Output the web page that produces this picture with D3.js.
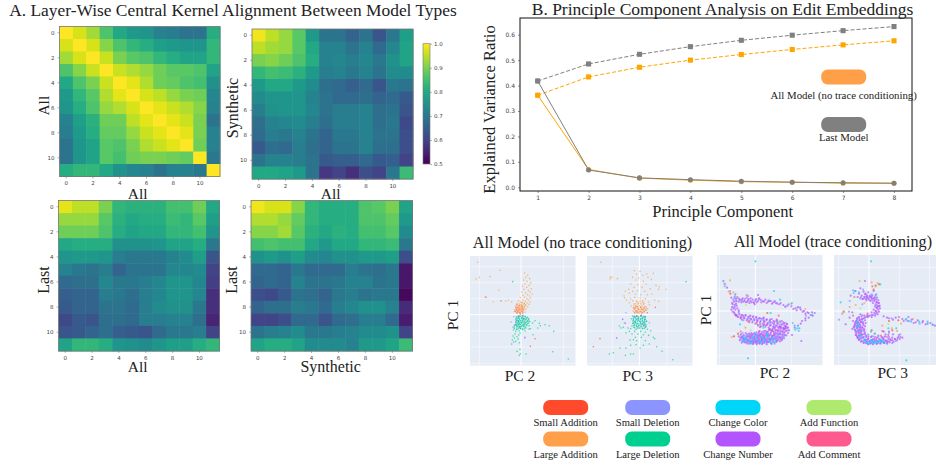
<!DOCTYPE html>
<html>
<head>
<meta charset="utf-8">
<script src="https://cdn.jsdelivr.net/npm/d3@7"></script>
<style>
  html, body { margin: 0; padding: 0; background: #fff; }
  svg { display: block; }
  text { font-family: "Liberation Serif", serif; fill: #222; }
  .tick text { font-family: "DejaVu Sans", sans-serif; fill: #444; }
</style>
</head>
<body>
<div id="chart"></div>
<script>
// ---- heatmaps, layer by layer ----
const layers = d3.range(12);
const layerTicks = [0, 2, 4, 6, 8, 10];
const allAll = [
  [1.0, .97, .93, .86, .80, .77, .76, .72, .71, .69, .69, .81],
  [.97, 1.0, .97, .91, .86, .83, .81, .78, .77, .76, .76, .83],
  [.93, .97, 1.0, .96, .90, .87, .86, .83, .81, .79, .79, .83],
  [.86, .91, .96, 1.0, .96, .94, .92, .89, .87, .87, .86, .79],
  [.80, .86, .90, .96, 1.0, .98, .94, .89, .88, .86, .85, .75],
  [.77, .83, .87, .94, .98, 1.0, .97, .95, .92, .90, .89, .73],
  [.76, .81, .86, .92, .94, .97, 1.0, .98, .96, .94, .91, .72],
  [.72, .78, .82, .89, .89, .95, .98, 1.0, .98, .96, .90, .69],
  [.71, .77, .81, .88, .88, .92, .96, .98, 1.0, .98, .90, .72],
  [.69, .76, .79, .87, .86, .90, .94, .96, .98, 1.0, .89, .72],
  [.69, .76, .79, .87, .85, .89, .90, .90, .89, .88, 1.0, .70],
  [.81, .83, .83, .80, .75, .73, .72, .69, .72, .72, .70, 1.0]
];
const syntheticAll = [
  [.99, .95, .92, .87, .77, .69, .69, .66, .69, .63, .70, .78],
  [.95, .93, .92, .87, .80, .72, .72, .69, .72, .67, .73, .79],
  [.90, .91, .89, .86, .81, .72, .73, .71, .73, .70, .75, .79],
  [.83, .85, .84, .82, .77, .71, .72, .70, .72, .69, .74, .74],
  [.77, .80, .80, .77, .74, .68, .67, .65, .67, .63, .70, .69],
  [.74, .76, .76, .76, .72, .69, .67, .67, .68, .66, .67, .64],
  [.71, .75, .76, .76, .73, .69, .71, .71, .72, .68, .69, .63],
  [.68, .72, .73, .74, .71, .68, .71, .71, .72, .68, .70, .61],
  [.67, .71, .70, .72, .69, .66, .70, .70, .72, .69, .69, .62],
  [.64, .68, .67, .71, .68, .66, .69, .69, .72, .68, .68, .62],
  [.69, .72, .72, .71, .69, .64, .65, .65, .67, .64, .65, .60],
  [.80, .80, .79, .77, .69, .58, .60, .57, .62, .60, .70, .84]
];
const lastAll = [
  [.98, .95, .95, .90, .83, .82, .82, .82, .85, .85, .89, .80],
  [.92, .92, .92, .87, .82, .80, .81, .81, .84, .83, .87, .78],
  [.89, .89, .89, .86, .81, .79, .80, .80, .83, .83, .85, .76],
  [.80, .81, .81, .81, .75, .75, .75, .76, .79, .79, .81, .70],
  [.76, .77, .77, .76, .71, .70, .70, .70, .72, .74, .78, .63],
  [.72, .70, .69, .71, .66, .69, .69, .69, .73, .73, .74, .60],
  [.67, .68, .68, .73, .70, .70, .71, .73, .76, .76, .73, .59],
  [.65, .66, .66, .71, .70, .68, .71, .73, .76, .76, .73, .57],
  [.64, .66, .66, .69, .69, .67, .71, .74, .75, .75, .70, .57],
  [.61, .64, .63, .68, .68, .67, .71, .71, .72, .72, .68, .55],
  [.63, .64, .66, .68, .65, .64, .63, .67, .70, .70, .71, .60],
  [.79, .83, .83, .81, .76, .75, .74, .76, .78, .78, .81, .83]
];
const lastSynthetic = [
  [.99, .97, .97, .91, .83, .81, .81, .81, .86, .87, .90, .79],
  [.94, .94, .92, .88, .83, .81, .81, .81, .86, .86, .88, .77],
  [.91, .91, .93, .87, .82, .80, .82, .81, .85, .85, .87, .74],
  [.85, .86, .85, .85, .80, .77, .80, .80, .83, .83, .84, .70],
  [.75, .77, .75, .78, .74, .73, .75, .75, .77, .77, .78, .62],
  [.67, .67, .66, .70, .67, .67, .67, .71, .69, .68, .70, .53],
  [.66, .67, .66, .72, .69, .69, .70, .72, .72, .69, .70, .53],
  [.62, .61, .64, .69, .68, .66, .70, .71, .69, .70, .70, .51],
  [.66, .68, .68, .71, .70, .67, .71, .73, .75, .75, .72, .56],
  [.60, .60, .62, .67, .67, .63, .67, .68, .71, .71, .67, .54],
  [.69, .71, .72, .74, .70, .70, .71, .72, .74, .74, .75, .60],
  [.79, .81, .81, .79, .74, .74, .74, .72, .77, .77, .79, .84]
];
const colorbarTicks = [0.5, 0.6, 0.7, 0.8, 0.9, 1.0];

// ---- explained variance ----
const components = [1, 2, 3, 4, 5, 6, 7, 8];
const varianceTicks = [0, 0.1, 0.2, 0.3, 0.4, 0.5, 0.6];
const lastCumulative = [.418, .485, .523, .553, .578, .598, .616, .632];
const allCumulative = [.362, .434, .472, .500, .522, .542, .560, .576];
const lastRatio = [.418, .068, .037, .030, .024, .020, .018, .016];
const allRatio = [.362, .070, .036, .028, .022, .020, .016, .016];

// ---- edit types ----
const editTypes = ["Small Addition", "Small Deletion", "Change Color", "Add Function",
                   "Large Addition", "Large Deletion", "Change Number", "Add Comment"];
const editColors = ["#ff4b2b", "#8c94ff", "#00d5fa", "#aeea6e",
                    "#ff9f4a", "#00d08f", "#b354ff", "#ff5a90"];

const noTrace2LargeAdd = [-130,157,-63,133,-135,107,-125,112,-93,114,-67,74,-107,54,-83,38,-46,41,-38,44,-28,39,
  11,125,20,118,14,112,26,108,8,104,18,100,29,96,12,92,24,88,5,85,17,82,31,78,9,76,22,73,27,69,3,68,14,66,33,62,19,60,6,58,25,56,
  11,53,29,50,-2,51,17,48,22,45,6,44,-8,42,13,40,27,39,2,37,18,35,-12,34,9,33,24,31,-3,30,14,28,-16,27,5,26,20,24,-8,22,10,21,-14,20,
  1,19,15,17,-18,16,-5,15,8,14,-11,12,3,11,-20,10,-6,9,12,8,-2,6,6,5,-13,6,
  -2,38,4,36,10,34,-4,32,2,31,8,29,14,30,-7,27,-1,26,5,25,11,24,-10,23,-4,22,2,21,8,20,-12,18,-6,17,0,16,6,15,-14,13,-8,12,-2,11,4,10,-15,8,-9,7,-3,6,3,5];
const noTrace2SmallAdd = [-105,52,-60,41,-12,30,-6,27,2,25,-15,22,-9,20,4,19,-3,17,-13,15,7,15,-7,13,1,11,-17,10,-10,9,5,8,-4,6,-12,5,42,-72,28,-95];
const noTrace2Deletion = [-22,-6,-14,-9,-5,-3,-18,-30,-8,-18,3,-8,13,-22,-24,-38,11,-70,-5,-26,-30,-22,-2,-40,6,-15,
  -10,-28,-2,-36,-16,-20,4,-10,-6,-20,12,-28,-20,-36,-8,-8];
const noTrace2LargeDel = [-25,99,4,-3,-5,-6,12,-5,-10,-10,2,-10,17,-10,23,-12,-16,-14,-4,-14,8,-14,14,-15,-12,-18,0,-18,20,-18,-7,-21,6,-21,26,-21,-15,-24,1,-25,12,-25,20,-26,-10,-27,-3,-29,7,-29,-18,-30,16,-30,-8,-33,2,-33,24,-33,-13,-37,9,-36,
  -5,-38,-20,-41,15,-40,-1,-42,-12,-44,5,-45,-23,-46,24,-43,-6,-48,-16,-50,12,-49,35,-25,42,-18,55,-26,-3,-55,-18,-58,-7,-61,-24,-64,-12,-66,58,-33,72,-30,50,-40,85,-33,98,-50,-20,-70,-9,-73,-26,-76,-16,-80,-5,-84,-28,-88,-22,-82,
  -3,-104,-12,-110,-2,-117,15,-118,-5,-122,95,-111,142,-133,28,-42,36,-60,
  -14,-6,-8,-4,-1,-5,6,-6,13,-7,19,-8,-12,-12,-6,-11,1,-12,8,-11,15,-13,22,-14,-13,-18,-7,-17,-1,-19,5,-17,11,-19,18,-20,24,-19,-15,-24,-9,-23,-3,-24,3,-23,9,-25,15,-24,22,-25,-14,-30,-7,-29,-1,-30,5,-31,11,-31,18,-32,-11,-35,-5,-35,1,-36,7,-35,13,-37,-8,-41,-2,-41,4,-42,10,-42,-14,-44];
const noTrace2Number = [-2,2,6,-2,-8,-5,-14,-32,10,-12,12,-68];
const noTrace2Color = [-12,-16,2,-24,-20,-33,8,-34];

const noTrace3LargeAdd = [-115,157,-87,113,-82,112,-66,108,-88,107,-15,132,2,130,-8,122,10,118,22,122,42,124,-20,112,-2,110,26,112,36,106,-10,104,12,100,-26,92,-4,90,20,92,50,88,60,84,-16,82,
  8,82,33,78,-32,76,58,76,80,76,-42,70,-20,70,-6,72,16,70,-46,56,-30,64,-12,62,4,60,24,60,38,62,-44,50,-26,48,-14,52,2,50,18,48,46,44,58,40,-38,44,-20,42,-8,40,10,42,28,38,-30,36,-16,32,-2,34,14,34,30,30,-24,26,-10,26,4,24,20,24,
  -16,20,-4,18,12,16,25,18,-8,12,6,10,-18,10,15,8,-2,6,
  -6,38,2,40,10,37,-12,33,-4,32,4,33,12,31,-16,27,-8,26,0,27,8,26,16,25,-18,21,-10,20,-2,21,6,20,14,19,20,20,-14,15,-6,14,2,15,10,14,18,13,-12,9,-4,8,4,9,12,8,-8,5,0,5,8,5];
const noTrace3SmallAdd = [-12,22,-6,24,4,22,14,20,-16,18,-2,16,8,16,20,14,-10,12,2,10,14,10,-6,8,8,6,-14,6,24,6,-118,-72,-138,-96,48,22];
const noTrace3Deletion = [-14,-4,-6,-6,4,-3,14,-5,-18,-12,-4,-12,8,-12,18,-14,-12,-20,2,-20,12,-22,-8,-28,6,-28,-16,-32,16,-30,-50,-14,-45,-24,-68,-70,20,-36,-40,6,30,-24,
  -12,-8,-2,-14,8,-10,-14,-22,2,-28,12,-24,-6,-36,16,-8,-18,-6,6,-2];
const noTrace3LargeDel = [140,99,-20,-4,-8,-3,4,-4,18,-6,-14,-8,-2,-9,10,-9,-24,-12,-8,-14,4,-14,16,-14,-18,-17,-2,-18,10,-18,22,-20,-12,-22,4,-22,15,-24,-20,-26,-6,-26,9,-28,20,-30,-14,-30,-1,-32,14,-33,-22,-34,-8,-35,5,-36,
  -16,-38,18,-38,-2,-40,10,-42,-26,-42,-10,-44,24,-44,-34,-40,-48,-38,-60,-34,-30,-50,-14,-50,4,-50,18,-52,34,-48,-40,-54,-22,-58,-4,-58,12,-60,28,-62,-55,-40,-12,-68,6,-68,46,-72,-28,-76,-8,-78,18,-78,42,-68,
  -10,-90,12,-92,-26,-92,30,-88,-58,-100,-78,-114,-90,-118,-40,-100,-18,-118,2,-100,-42,-122,-26,-118,52,-96,68,-110,100,-135,-18,-75,
  -16,-6,-9,-5,-2,-6,5,-5,12,-6,18,-7,-18,-13,-11,-12,-4,-12,3,-13,10,-12,17,-14,-19,-19,-13,-20,-6,-19,1,-20,8,-19,15,-21,21,-20,-18,-26,-11,-25,-4,-27,3,-26,10,-27,17,-26,-16,-33,-9,-32,-2,-33,5,-33,12,-34,19,-34,-14,-39,-6,-40,1,-40,8,-40,15,-41];
const noTrace3Number = [-42,-26,-50,-14,-8,-4,6,-2,-16,-24,12,-30,-68,-70];
const noTrace3Color = [-10,-16,4,-26,16,-18,-2,-34];

const trace2Number = [-96,90,-85,70,-60,50,-58,30,-48,36,-40,34,-32,36,-22,33,-14,30,-6,26,2,36,8,30,16,33,22,30,30,34,38,28,46,30,54,26,62,24,72,20,84,18,96,16,108,14,120,8,128,12,136,4,142,-2,150,-8,160,-6,170,-4,178,-6,172,-14,160,-20,
  150,-28,136,-38,128,-44,118,-50,-64,28,-68,20,-62,12,-60,4,-64,-4,-56,-12,-52,-18,-44,-22,-34,-20,-24,-24,-14,-26,-4,-24,6,-28,16,-30,26,-32,36,-36,46,-34,56,-38,66,-36,78,-40,88,-44,-58,22,-54,8,-50,-2,-42,-12,-30,-14,-18,-16,-8,-18,2,-20,14,-22,
  24,-22,34,-26,44,-26,54,-30,64,-30,74,-32,84,-34,94,-38,4,-34,14,-40,24,-44,34,-42,44,-44,54,-46,64,-44,74,-48,84,-50,
  -44,-84,-38,-76,-36,-91,-30,-81,-28,-95,-25,-70,-22,-86,-18,-77,-17,-98,-13,-90,-10,-72,-8,-83,-6,-97,-3,-66,-1,-78,2,-90,4,-100,6,-71,8,-84,11,-62,12,-95,15,-76,17,-88,19,-68,22,-97,24,-80,26,-60,28,-91,30,-72,33,-85,35,-64,37,-94,39,-77,41,-56,43,-88,45,-68,47,-96,49,-80,51,-60,53,-91,55,-72,57,-52,59,-84,61,-65,63,-93,65,-76,67,-57,69,-87,71,-69,73,-48,75,-80,77,-61,79,-88,81,-72,84,-54,86,-82,88,-64,91,-46,93,-73,96,-58,
  -40,-80,-33,-88,-26,-78,-20,-93,-15,-83,-11,-74,-5,-88,0,-94,3,-73,7,-79,10,-91,14,-69,18,-82,21,-92,25,-73,29,-84,32,-67,36,-89,40,-71,44,-82,48,-58,52,-86,56,-66,60,-78,64,-88,68,-62,72,-78,76,-54,80,-80,85,-68,
  -42,-78,-34,-84,-24,-90,-16,-72,-9,-94,-2,-84,5,-92,12,-74,20,-86,27,-78,34,-94,41,-84,50,-74,58,-70,66,-82,74,-66,82,-60,90,-52,138,-90,-2,20,8,48,12,38,-50,2,-72,40,50,-58,110,-72,
  -50,-76,-47,-88,-43,-70,-41,-95,-37,-83,-35,-72,-32,-94,-29,-66,-27,-86,-24,-75,-23,-98,-19,-68,-19,-89,-16,-80,-14,-93,-12,-66,-12,-78,-9,-88,-7,-69,-7,-99,-4,-80,-2,-92,-1,-70,1,-86,3,-64,3,-97,5,-79,7,-90,9,-67,9,-74,11,-86,13,-98,13,-60,16,-70,16,-92,18,-80,20,-63,20,-99,23,-86,23,-74,26,-66,26,-94,28,-79,31,-60,31,-89,34,-73,34,-100,37,-82,38,-62,40,-93,42,-74,43,-54,46,-86,47,-64,49,-99,50,-76,52,-54,54,-84,55,-62,57,-94,58,-73,60,-50,62,-82,63,-58,65,-90,66,-68,69,-48,70,-80,72,-59,74,-91,76,-70,78,-50,80,-84,82,-63,84,-76,87,-56,89,-72,92,-60,95,-50,98,-66,101,-58,
  -48,-10,-44,-18,-40,-26,-37,-14,-33,-22,-29,-12,-26,-28,-22,-18,-19,-30,-15,-14,-12,-24,-9,-34,-6,-16,-3,-28,0,-38,3,-18,6,-30,8,-42,11,-22,14,-34,17,-46,19,-24,22,-38,25,-20,28,-32,31,-44,34,-26,37,-40,40,-50,43,-30,46,-42,49,-24,52,-36,55,-48,58,-32,61,-44,64,-26,67,-38,70,-52,73,-34,76,-46,79,-30,82,-40,85,-52,88,-36,91,-46,95,-40,98,-50,
  -70,24,-66,34,-62,40,-58,36,-54,42,-50,28,-46,32,-42,26,-38,38,-36,28,-32,30,-28,26,-26,40,-24,28,-20,36,-18,24,-14,38,-12,26,-8,34,-4,24,0,32,-70,12,-66,8,-68,-2,-62,-8,-58,-14,-62,18,-72,4,-56,16,-54,-16,4,26,10,36,18,26,26,28,34,24,42,30,50,22,58,30,66,22,76,24,90,12,100,20,114,6,124,2,134,10,146,0,156,-4,166,-12,150,-22,140,-30];
const trace2Deletion = [-46,-80,-30,-74,-20,-85,-12,-94,-4,-76,6,-88,14,-82,22,-72,30,-92,38,-84,46,-72,54,-94,62,-84,70,-74,80,-70,-40,-90,-28,-92,-10,-84,4,-96,18,-90,34,-78,48,-88,60,-68,76,-84,-60,20,-50,-6,-36,-18,-16,-22,4,-26,26,-28,44,-36,
  66,-32,86,-38,40,32,60,26,90,14,126,10,152,-14,-56,38,-76,60,-22,45,8,-44,30,-48,52,-52,112,-36,130,-60,-92,74,
  -44,-72,-34,-92,-22,-74,-10,-98,-2,-74,8,-96,18,-74,28,-96,38,-70,48,-84,58,-98,68,-72,78,-78,88,-74,-38,-66,-26,-94,-14,-70,-4,-90,12,-78,24,-90,34,-76,44,-92,54,-78,64,-70,74,-84,-36,-28,-20,-22,-8,-30,8,-24,24,-28,40,-34,56,-40,72,-42,-64,10,-56,30,-40,30,-20,30,0,30];
const trace2Color = [-93,82,-30,-86,-18,-90,-8,-78,2,-84,12,-90,20,-78,30,-88,42,-90,50,-80,-34,-78,0,-70,36,-74,60,-90,-14,-96,74,34,56,60,108,22,-62,44,46,-6,120,-56,126,-52,132,-52,118,-44,170,-12,-22,-142,0,149,-46,-40,24,-50,
  -38,-88,-26,-82,-10,-90,6,-76,16,-94,26,-84,34,-70,46,-94,56,-82];
const trace2SmallAdd = [-75,52,-22,-76,44,-56,-6,-92,-64,-76,-52,-68,-60,-12,14,-48,-44,-20,90,-52,60,-58,26,-40,36,-6];
const trace2LargeAdd = [-76,92,-90,80,-80,58,-66,56,-50,38,-30,-50,-70,-78,4,-38,-22,-32,66,-28,38,-70,110,24,150,6,-40,-12];
const trace2Comment = [-44,-62,10,-82,56,-74,-18,-34,70,-14,24,-72,-26,48];
const trace2Function = [72,-32,-14,-58,-28,18];

const trace3Number = [-55,46,-42,60,-26,68,-16,58,-10,52,-2,56,6,44,14,60,20,48,24,40,28,32,30,24,-22,46,-14,40,-26,38,-6,40,2,42,10,38,16,34,22,26,26,16,24,8,20,0,16,-6,8,-12,-2,-16,-12,50,4,30,12,24,18,14,14,4,8,-4,-4,-8,
  -18,36,-8,32,-30,52,-34,42,32,16,-26,-10,-22,-16,-30,-18,-36,-22,-14,-14,-20,-24,-28,-26,-38,-30,-16,-22,-12,-28,-24,-32,-34,-36,-42,-36,-18,-34,-10,-36,-28,-40,-38,-44,-16,-42,-46,-50,-26,-48,-36,-52,-20,-50,-12,-46,
  -42,-58,-30,-56,-22,-60,-38,-66,-26,-66,-14,-56,-40,-72,-28,-74,-18,-70,-34,-80,-22,-80,-12,-66,-30,-86,-16,-78,-8,-74,-24,-92,-12,-86,-2,-82,-16,-96,-4,-92,6,-78,4,-98,14,-84,14,-94,24,-80,24,-98,34,-86,34,-98,44,-84,44,-96,54,-90,54,-98,64,-84,
  -6,-86,2,-90,10,-88,18,-90,28,-92,38,-92,48,-90,58,-92,70,-88,78,-84,-36,-76,-34,-60,-32,-46,-24,-54,-44,-44,-48,-30,-10,-96,-2,-100,12,-100,40,-80,60,-78,70,-96,86,-82,94,-78,90,-72,72,-70,
  54,-20,72,-26,90,-18,104,-30,118,-18,134,-36,146,-28,160,-34,176,-38,192,-42,206,-36,44,-16,60,-62,100,-80,50,-70,-70,-40,-50,-54,-58,-20,-12,90,-50,-4,40,-60,
  -20,36,-14,42,-10,36,-6,44,-2,38,2,46,6,40,10,46,14,38,18,40,22,34,24,26,28,24,30,14,26,12,33,8,28,4,30,-2,24,-4,26,-10,20,-8,18,-14,12,-12,8,-18,2,-14,-4,-18,-12,-20,-8,44,0,34,8,34,16,30,20,20,22,10,20,0,
  -30,-20,-36,-26,-28,-28,-22,-24,-40,-32,-32,-34,-24,-34,-42,-40,-34,-42,-26,-42,-18,-38,-44,-48,-36,-50,-28,-50,-20,-48,-42,-56,-34,-58,-26,-58,-16,-54,-40,-64,-32,-66,-24,-64,-14,-62,-38,-72,-30,-74,-22,-72,-12,-70,-34,-80,-26,-82,-18,-80,-8,-78,-30,-86,-22,-90,-12,-88,-2,-84,
  -16,-94,-8,-92,-4,-98,2,-90,6,-96,10,-86,14,-94,18,-88,22,-98,26,-90,30,-84,34,-96,38,-90,42,-84,46,-96,50,-88,54,-94,58,-84,62,-94,66,-88,70,-80,74,-92,78,-84,84,-88,88,-78,92,-84,-2,-76,8,-76,18,-78,28,-74,38,-78,48,-76,58,-72,
  60,-22,80,-20,100,-24,116,-30,128,-26,140,-34,162,-30,170,-40,184,-36,198,-44];
const trace3Deletion = [-48,62,-30,56,-18,64,-6,48,8,50,18,42,-24,42,-4,36,10,30,22,18,-32,-20,-26,-42,-38,-62,-30,-78,-18,-90,-6,-94,8,-92,22,-88,36,-94,50,-92,62,-88,-20,-12,-8,-18,-34,-30,-42,-40,-18,-58,-10,-76,-2,-70,
  12,-76,28,-78,46,-78,60,-66,80,-90,94,-70,68,-22,110,-26,126,-32,152,-38,-60,-2,-58,30,-90,-26,-80,-8,-20,20,
  -6,-94,4,-92,12,-98,20,-90,28,-96,36,-92,44,-90,-14,-88,-24,-84,-30,-70,-34,-60,-38,-46,-30,-36,-20,-30,6,-88,16,-84];
const trace3Color = [6,149,-46,54,-40,60,-85,26,34,80,-34,-48,-28,-60,-24,-76,-14,-86,-4,-96,6,-88,16,-96,26,-92,36,-88,46,-96,18,-68,6,-62,58,-52,82,-52,120,-30,112,-24,150,-32,176,-32,190,-40,112,-148,22,50,
  -32,-44,-26,-72,-10,-90,2,-96,12,-92,22,-94,32,-90,42,-92,-36,-34];
const trace3SmallAdd = [-6,-14,14,64,20,76,30,80,-36,-36,-22,-70,44,-62,70,-58,-76,-2,60,-30,8,-58,88,-28];
const trace3LargeAdd = [-28,90,8,86,26,84,-58,12,-76,-2,-40,18,-14,24,68,-52,84,-60,40,-44,96,-38,132,-24,16,-68];
const trace3Comment = [10,74,-30,-64,36,-74,-48,-14,22,-84,54,-78,-44,42];
const trace3Function = [20,72,-26,8,58,-40];

const drawOrder = ["smallAdd", "largeAdd", "number", "deletion", "largeDel", "color", "fn", "comment"];

// flat x,y list -> pairs
function toPairs(flat) {
  const out = [];
  for (let i = 0; i < flat.length; i += 2) out.push([flat[i], flat[i + 1]]);
  return out;
}

const width = 936, height = 467;
const svg = d3.select("#chart").append("svg").attr("width", width).attr("height", height);

function label(txt, x, y, size, rotate) {
  const t = svg.append("text").attr("text-anchor", "middle").attr("font-size", size).text(txt);
  if (rotate) t.attr("transform", `translate(${x},${y}) rotate(-90)`);
  else t.attr("x", x).attr("y", y);
  return t;
}

// ---- A. heatmaps ----
const heatColor = d3.scaleSequential(d3.interpolateViridis).domain([0.5, 1]);
const heatPanels = [
  { values: allAll, x0: 59.5, x1: 220, y0: 26.5, y1: 176.5 },
  { values: syntheticAll, x0: 252, x1: 413, y0: 29, y1: 179 },
  { values: lastAll, x0: 58.5, x1: 219.5, y0: 200.5, y1: 351 },
  { values: lastSynthetic, x0: 251, x1: 412.5, y0: 200.5, y1: 351 }
];
heatPanels.forEach(p => {
  const x = d3.scaleBand().domain(layers).range([p.x0, p.x1]);
  const y = d3.scaleBand().domain(layers).range([p.y0, p.y1]);
  const g = svg.append("g").style("filter", "blur(0.5px)");
  p.values.forEach((row, r) => {
    g.selectAll(null).data(row).enter().append("rect")
      .attr("x", (d, c) => x(c)).attr("y", y(r))
      .attr("width", x.bandwidth() + 0.5).attr("height", y.bandwidth() + 0.5)
      .attr("fill", d => heatColor(d));
  });
  svg.append("rect").attr("x", p.x0).attr("y", p.y0)
    .attr("width", p.x1 - p.x0).attr("height", p.y1 - p.y0)
    .attr("fill", "none").attr("stroke", "#777").attr("stroke-width", 0.8);
  [["axisBottom", `translate(0,${p.y1})`, x], ["axisLeft", `translate(${p.x0},0)`, y]].forEach(([fn, tr, s]) => {
    const a = svg.append("g").attr("transform", tr)
      .call(d3[fn](s).tickValues(layerTicks).tickSize(2).tickPadding(3));
    a.select(".domain").remove();
    a.selectAll("line").attr("stroke", "#666").attr("stroke-width", 0.5);
    a.selectAll("text").attr("font-size", 5.5);
  });
});

// colorbar
const cbScale = d3.scaleLinear().domain([0.5, 1]).range([164, 43.7]);
const cbDefs = svg.append("defs").append("linearGradient").attr("id", "viridisBar")
  .attr("x1", 0).attr("y1", 1).attr("x2", 0).attr("y2", 0);
d3.range(0, 1.001, 0.1).forEach(t => {
  cbDefs.append("stop").attr("offset", t).attr("stop-color", d3.interpolateViridis(t));
});
svg.append("rect").attr("x", 423).attr("y", 43.7).attr("width", 7).attr("height", 120.3)
  .attr("fill", "url(#viridisBar)").attr("stroke", "#777").attr("stroke-width", 0.6);
const cbAxis = svg.append("g").attr("transform", "translate(430,0)")
  .call(d3.axisRight(cbScale).tickValues(colorbarTicks).tickFormat(d3.format(".1f")).tickSize(2).tickPadding(2));
cbAxis.select(".domain").remove();
cbAxis.selectAll("line").attr("stroke", "#666").attr("stroke-width", 0.5);
cbAxis.selectAll("text").attr("font-size", 5.5);

label("A. Layer-Wise Central Kernel Alignment Between Model Types", 233, 15.5, 17.4);
label("All", 137.7, 198.5, 15.5);
label("All", 49, 105.7, 15.5, true);
label("Synthetic", 238, 108, 16, true);
label("All", 330.7, 198.5, 15.5);
label("Last", 49, 280, 16, true);
label("Last", 237, 280, 16, true);
label("All", 137.7, 372, 15.5);
label("Synthetic", 330.7, 372, 16);

// ---- B. explained variance ----
const xVar = d3.scaleLinear().domain([1, 8]).range([537.7, 894]);
const yVar = d3.scaleLinear().domain([0, 0.6]).range([187.3, 34.7]);
const varLine = d3.line().x((d, i) => xVar(components[i])).y(d => yVar(d));
svg.append("rect").attr("x", 520).attr("y", 18).attr("width", 392).attr("height", 173)
  .attr("fill", "#fff").attr("stroke", "#111").attr("stroke-width", 1);

const varSeries = [
  { values: allCumulative, color: "orange", dash: "4,2", shape: "square" },
  { values: lastCumulative, color: "#808080", dash: "4,2", shape: "square" },
  { values: allRatio, color: "orange", dash: null, shape: "circle" },
  { values: lastRatio, color: "#808080", dash: null, shape: "circle" }
];
varSeries.forEach(s => {
  svg.append("path").datum(s.values).attr("d", varLine).attr("fill", "none")
    .attr("stroke", s.color).attr("stroke-width", 1).attr("stroke-dasharray", s.dash);
  const sym = d3.symbol().type(s.shape === "square" ? d3.symbolSquare : d3.symbolCircle).size(s.shape === "square" ? 26 : 20);
  svg.selectAll(null).data(s.values).enter().append("path")
    .attr("d", sym)
    .attr("transform", (d, i) => `translate(${xVar(components[i])},${yVar(d)})`)
    .attr("fill", s.color);
});
const xVarAxis = svg.append("g").attr("transform", "translate(0,191)")
  .call(d3.axisBottom(xVar).tickValues(components).tickFormat(d3.format("d")).tickSize(2).tickPadding(3));
const yVarAxis = svg.append("g").attr("transform", "translate(520,0)")
  .call(d3.axisLeft(yVar).tickValues(varianceTicks).tickFormat(d3.format(".1f")).tickSize(2).tickPadding(3));
[xVarAxis, yVarAxis].forEach(a => {
  a.select(".domain").remove();
  a.selectAll("line").attr("stroke", "#444").attr("stroke-width", 0.6);
  a.selectAll("text").attr("font-size", 6);
});

label("B. Principle Component Analysis on Edit Embeddings", 722.5, 15, 17.5);
label("Explained Variance Ratio", 495, 109.5, 16.5, true);
label("Principle Component", 722.7, 217, 16.5);

function pill(cx, cy, color) {
  svg.append("rect").attr("x", cx - 22.5).attr("y", cy - 7.5).attr("width", 45).attr("height", 15)
    .attr("rx", 6.5).attr("fill", color);
}
pill(843.7, 77, "#ff9f47");
label("All Model (no trace conditioning)", 843.7, 99, 10.8);
pill(843.7, 124.5, "#808080");
label("Last Model", 843.7, 141, 10.8);

// ---- projections ----
const scatterPanels = [
  { x0: 470, x1: 575.7, y0: 256, y1: 365.7, r: 0.8, xDom: [-153, 164], yDom: [-153, 176],
    xGrid: [-125, 127], yGrid: [145, 97, 48, -49, -97, -146],
    series: { smallAdd: noTrace2SmallAdd, largeAdd: noTrace2LargeAdd, deletion: noTrace2Deletion, largeDel: noTrace2LargeDel, number: noTrace2Number, color: noTrace2Color } },
  { x0: 587, x1: 692.7, y0: 256, y1: 365.7, r: 0.8, xDom: [-157, 160], yDom: [-153, 176],
    xGrid: [-81, 83], yGrid: [145, 97, 48, -49, -97, -146],
    series: { smallAdd: noTrace3SmallAdd, largeAdd: noTrace3LargeAdd, deletion: noTrace3Deletion, largeDel: noTrace3LargeDel, number: noTrace3Number, color: noTrace3Color } },
  { x0: 716.7, x1: 822.7, y0: 255, y1: 365, r: 1.1, xDom: [-116, 202], yDom: [-162, 168],
    xGrid: [-108, 109], yGrid: [131, 65, -66, -133],
    series: { smallAdd: trace2SmallAdd, largeAdd: trace2LargeAdd, deletion: trace2Deletion, number: trace2Number, color: trace2Color, fn: trace2Function, comment: trace2Comment } },
  { x0: 834, x1: 942, y0: 255, y1: 365, r: 1.1, xDom: [-105, 219], yDom: [-162, 168],
    xGrid: [-91, 92, 181], yGrid: [131, 65, -66, -133],
    series: { smallAdd: trace3SmallAdd, largeAdd: trace3LargeAdd, deletion: trace3Deletion, number: trace3Number, color: trace3Color, fn: trace3Function, comment: trace3Comment } }
];
const seriesColor = {
  smallAdd: editColors[0], deletion: editColors[1], color: editColors[2], fn: editColors[3],
  largeAdd: editColors[4], largeDel: editColors[5], number: editColors[6], comment: editColors[7]
};
const defs = svg.append("defs");
scatterPanels.forEach((p, i) => {
  const x = d3.scaleLinear().domain(p.xDom).range([p.x0, p.x1]);
  const y = d3.scaleLinear().domain(p.yDom).range([p.y1, p.y0]);
  defs.append("clipPath").attr("id", `clip${i}`).append("rect")
    .attr("x", p.x0).attr("y", p.y0).attr("width", p.x1 - p.x0).attr("height", p.y1 - p.y0);
  const g = svg.append("g").attr("clip-path", `url(#clip${i})`);
  g.append("rect").attr("x", p.x0).attr("y", p.y0).attr("width", p.x1 - p.x0).attr("height", p.y1 - p.y0)
    .attr("fill", "#e5ecf6");
  g.selectAll(null).data(p.xGrid).enter().append("line")
    .attr("x1", d => x(d)).attr("x2", d => x(d)).attr("y1", p.y0).attr("y2", p.y1)
    .attr("stroke", "#fff").attr("stroke-width", 0.5);
  g.selectAll(null).data(p.yGrid).enter().append("line")
    .attr("y1", d => y(d)).attr("y2", d => y(d)).attr("x1", p.x0).attr("x2", p.x1)
    .attr("stroke", "#fff").attr("stroke-width", 0.5);
  g.append("line").attr("x1", x(0)).attr("x2", x(0)).attr("y1", p.y0).attr("y2", p.y1).attr("stroke", "#fff").attr("stroke-width", 1);
  g.append("line").attr("y1", y(0)).attr("y2", y(0)).attr("x1", p.x0).attr("x2", p.x1).attr("stroke", "#fff").attr("stroke-width", 1);
  const dots = g.append("g").style("filter", "blur(0.25px)");
  drawOrder.forEach(k => {
    if (!p.series[k]) return;
    dots.selectAll(null).data(toPairs(p.series[k])).enter().append("circle")
      .attr("cx", d => x(d[0])).attr("cy", d => y(d[1])).attr("r", p.r)
      .attr("fill", seriesColor[k]).attr("opacity", 0.7);
  });
});

label("All Model (no trace conditioning)", 582.5, 247.5, 16.2);
label("All Model (trace conditioning)", 833, 247, 16.1);
label("PC 1", 458, 315, 15.5, true);
label("PC 2", 520, 380.7, 15.5);
label("PC 3", 637.7, 380.7, 15.5);
label("PC 1", 711, 310, 15.5, true);
label("PC 2", 775, 378, 15.5);
label("PC 3", 892.7, 378, 15.5);

// ---- legend ----
const legendX = [565.7, 647.7, 738, 829];
const legendPillY = [407.5, 439];
const legendTextY = [426, 458];
editTypes.forEach((name, i) => {
  const c = i % 4, r = Math.floor(i / 4);
  pill(legendX[c], legendPillY[r], editColors[i]);
  label(name, legendX[c], legendTextY[r], 10.6);
});
</script>
</body>
</html>
